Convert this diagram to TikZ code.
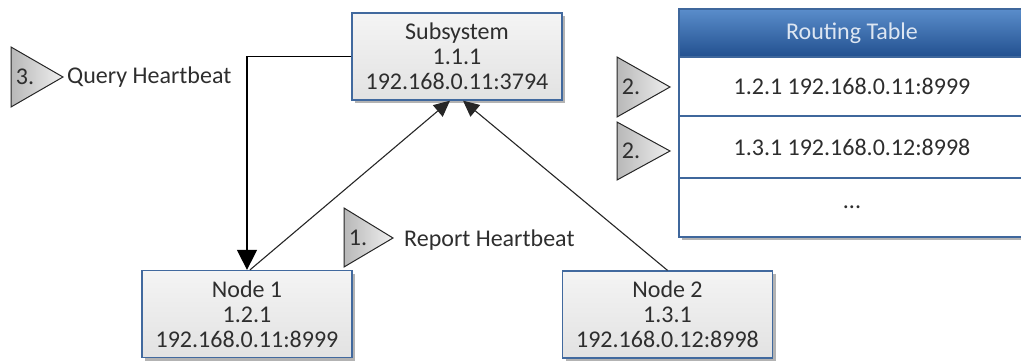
\documentclass[tikz,border=0pt]{standalone}
\usepackage{fontspec}
\setmainfont{Carlito}
\usetikzlibrary{arrows.meta,shadows}

\definecolor{boxblue}{HTML}{41699E}
\definecolor{boxtop}{HTML}{F4F4F4}
\definecolor{boxbot}{HTML}{E2E2E2}
\definecolor{txtgray}{HTML}{2E2E2E}
\definecolor{headtop}{HTML}{5A8DCB}
\definecolor{headbot}{HTML}{22508F}
\definecolor{headtxt}{HTML}{DDE6F2}
\definecolor{tabblue}{HTML}{3F679C}

\tikzset{
  lbl/.style={font=\fontsize{24}{25}\selectfont, text=txtgray},
  sysbox/.style={lbl, draw=boxblue, line width=1.3pt, top color=boxtop, bottom color=boxbot,
    minimum width=210pt, minimum height=87pt, align=center, inner sep=0pt,
    drop shadow={shadow xshift=3pt, shadow yshift=-3pt, fill=black!50, opacity=0.6}},
  tabrow/.style={lbl, draw=tabblue, line width=1.3pt, fill=white, minimum width=346pt, inner sep=0pt,
    drop shadow={shadow xshift=3pt, shadow yshift=-3pt, fill=black!50, opacity=0.6}},
  tabhead/.style={tabrow, top color=headtop, bottom color=headbot, text=headtxt},
  tri/.style={draw=black!85, line width=1pt, left color=black!28, right color=black!6},
  tnum/.style={lbl, inner sep=0pt},
  flow/.style={draw=black, line width=1.5pt, -{Triangle[length=20pt,width=20pt]}},
  report/.style={draw=black!85, line width=1.1pt, -{Triangle[length=16pt,width=15pt]}}
}

\begin{document}
\begin{tikzpicture}[x=1pt, y=-1pt]
  \useasboundingbox (0,0) rectangle (1021,362);

  % boxes
  \node[sysbox] (sub) at (457,56.5) {Subsystem\\1.1.1\\192.168.0.11:3794};
  \node[sysbox] (n1) at (247,314) {Node 1\\1.2.1\\192.168.0.11:8999};
  \node[sysbox] (n2) at (667.5,314.5) {Node 2\\1.3.1\\192.168.0.12:8998};

  % routing table
  \node[tabhead, minimum height=48pt] (rthead) at (852,33) {Routing Table};
  \node[tabrow, minimum height=59pt] (row1) at (852,86.5) {1.2.1 192.168.0.11:8999};
  \node[tabrow, minimum height=62pt] (row2) at (852,147) {1.3.1 192.168.0.12:8998};
  \node[tabrow, minimum height=59pt] (row3) at (852,207.5) {...};

  % connectors
  \draw[flow] (sub.west) -| (n1.north);
  \draw[report] ([xshift=3pt]n1.north) -- ([xshift=-7pt]sub.south);
  \draw[report] (n2.north) -- ([xshift=6pt]sub.south);

  % step markers
  \draw[tri] (11,47) -- (63,77) -- (11,107) -- cycle;
  \node[tnum] (t3) at (25,77) {3.};
  \node[lbl, anchor=west, inner sep=0pt] (qhb) at (67,77) {Query Heartbeat};

  \draw[tri] (344,208) -- (393,238) -- (344,267) -- cycle;
  \node[tnum] (t1) at (358,238) {1.};
  \node[lbl, anchor=west, inner sep=0pt] (rhb) at (404,240) {Report Heartbeat};

  \draw[tri] (617,57) -- (670,87) -- (617,117) -- cycle;
  \node[tnum] (t2a) at (631,87) {2.};
  \draw[tri] (617,122) -- (670,151) -- (617,180) -- cycle;
  \node[tnum] (t2b) at (631,151) {2.};
\end{tikzpicture}
\end{document}
